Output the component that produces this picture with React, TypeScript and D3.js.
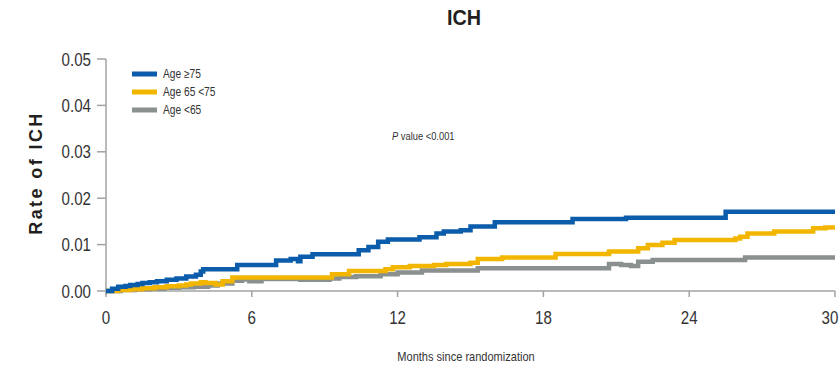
import React from 'react';
import * as d3 from 'd3';

// Axis ticks
const monthTicks = [0, 6, 12, 18, 24, 30];
const rateTicks = [0, 0.01, 0.02, 0.03, 0.04, 0.05];
const rateTickLabels = ['0.00', '0.01', '0.02', '0.03', '0.04', '0.05'];

// Cumulative ICH rate by age group (months since randomization, rate)
const ageOver75Months = [0, 0.25, 0.5, 0.8, 1.0, 1.3, 1.5, 1.8, 2.1, 2.5, 2.9, 3.3, 3.7, 3.9, 4.0, 5.4, 7.0, 7.6, 7.9, 8.0, 8.5, 10.4, 10.8, 11.2, 11.6, 12.9, 13.6, 13.9, 14.6, 15.0, 16.0, 19.2, 21.4, 25.5, 30];
const ageOver75Rates = [0, 0.0005, 0.0009, 0.0011, 0.0013, 0.0015, 0.0017, 0.0019, 0.0021, 0.0024, 0.0027, 0.0031, 0.0035, 0.0042, 0.0047, 0.0056, 0.0066, 0.0069, 0.0064, 0.0074, 0.0079, 0.0088, 0.0095, 0.0106, 0.0111, 0.0116, 0.0124, 0.0128, 0.0131, 0.0139, 0.0148, 0.0155, 0.0158, 0.0171, 0.0171];

const age65to75Months = [0, 0.5, 1.0, 1.5, 2.0, 2.5, 3.0, 3.3, 3.5, 3.9, 4.1, 4.5, 4.8, 5.2, 9.3, 10.0, 11.5, 11.8, 12.5, 13.5, 14.0, 15.0, 15.3, 16.3, 18.5, 20.7, 21.9, 22.3, 22.9, 23.4, 25.9, 26.1, 26.4, 27.5, 29.1, 29.6, 30];
const age65to75Rates = [0, 0.0002, 0.0004, 0.0006, 0.0008, 0.001, 0.0012, 0.0014, 0.0016, 0.0019, 0.0017, 0.0014, 0.0021, 0.0029, 0.0036, 0.0043, 0.0047, 0.0051, 0.0054, 0.0056, 0.0058, 0.0061, 0.0069, 0.0072, 0.008, 0.0085, 0.0092, 0.0099, 0.0104, 0.011, 0.0113, 0.0117, 0.0124, 0.0128, 0.0135, 0.0137, 0.0137];

const ageUnder65Months = [0, 0.6, 1.2, 1.8, 2.4, 3.0, 3.6, 4.2, 4.6, 5.2, 5.6, 5.9, 6.4, 8.0, 9.2, 9.6, 10.3, 11.3, 12.0, 13.0, 15.3, 20.7, 21.2, 21.6, 21.9, 22.5, 26.3, 30];
const ageUnder65Rates = [0, 0.0002, 0.0004, 0.0005, 0.0007, 0.0008, 0.0009, 0.0012, 0.0016, 0.0022, 0.0025, 0.0021, 0.0026, 0.0024, 0.0027, 0.003, 0.0032, 0.0036, 0.004, 0.0044, 0.0049, 0.0058, 0.0056, 0.0054, 0.0063, 0.0067, 0.0072, 0.0072];

const seriesNames = ['Age \u226575', 'Age 65 <75', 'Age <65'];
const seriesColors = ['#0b5cab', '#f2b600', '#8a8f8f'];

const NARROW = "'Liberation Sans Narrow', 'Arial Narrow', 'Liberation Sans', Arial, sans-serif";
const SANS = "'Liberation Sans', Arial, sans-serif";

function CondText({ x, y, size, anchor = 'start', sx = 0.85, weight = 'normal', fill = '#333', children }: any) {
  return (
    <text
      transform={`translate(${x},${y}) scale(${sx},1)`}
      textAnchor={anchor}
      fontSize={size}
      fontFamily={NARROW}
      fontWeight={weight}
      fill={fill}
    >
      {children}
    </text>
  );
}

export default function App() {
  const W = 840;
  const H = 365;
  const x = d3.scaleLinear().domain([0, 30]).range([106, 835]);
  const y = d3.scaleLinear().domain([0, 0.05]).range([291, 59]);

  const line = d3
    .line<[number, number]>()
    .x((d) => x(d[0]))
    .y((d) => y(d[1]))
    .curve(d3.curveStepAfter);

  const zipSeries = (m: number[], r: number[]) => m.map((t, i) => [t, r[i]] as [number, number]);
  const series = [
    zipSeries(ageOver75Months, ageOver75Rates),
    zipSeries(age65to75Months, age65to75Rates),
    zipSeries(ageUnder65Months, ageUnder65Rates),
  ];
  const drawOrder = [2, 1, 0];
  const axisColor = '#a3a3a3';

  return (
    <svg width={W} height={H} style={{ position: 'absolute', left: 0, top: 0, background: '#fff' }}>
      {/* title */}
      <CondText x={464} y={25} size={22} anchor="middle" sx={0.9} weight="bold" fill="#231f20">
        ICH
      </CondText>

      {/* y axis */}
      <line x1={x(0)} x2={x(0)} y1={y(0.05)} y2={y(0) + 4} stroke={axisColor} strokeWidth={1.5} />
      {rateTicks.map((v, i) => (
        <g key={`yt${i}`}>
          <line x1={x(0) - 9} x2={x(0)} y1={y(v)} y2={y(v)} stroke={axisColor} strokeWidth={1.5} />
          <CondText x={91} y={y(v) + 6.5} size={18} anchor="end" sx={0.84}>
            {rateTickLabels[i]}
          </CondText>
        </g>
      ))}
      <text
        transform={`translate(42,${(y(0) + y(0.05)) / 2 - 2}) rotate(-90)`}
        textAnchor="middle"
        fontFamily={SANS}
        fontWeight="bold"
        fontSize={18}
        letterSpacing={2.4}
        fill="#231f20"
      >
        Rate of ICH
      </text>

      {/* x axis */}
      <line x1={x(0)} x2={x(30)} y1={y(0)} y2={y(0)} stroke={axisColor} strokeWidth={1.5} />
      {monthTicks.map((m) => (
        <g key={`xt${m}`}>
          <line x1={x(m)} x2={x(m)} y1={y(0)} y2={y(0) + 6} stroke={axisColor} strokeWidth={1.5} />
          <CondText x={Math.min(x(m), 830)} y={y(0) + 33} size={18} anchor="middle" sx={0.84}>
            {String(m)}
          </CondText>
        </g>
      ))}
      <CondText x={466} y={361} size={13} anchor="middle" sx={0.85}>
        Months since randomization
      </CondText>

      {/* curves */}
      {drawOrder.map((i) => (
        <path
          key={`s${i}`}
          d={line(series[i]) || ''}
          fill="none"
          stroke={seriesColors[i]}
          strokeWidth={4.5}
        />
      ))}

      {/* legend */}
      {seriesNames.map((name, i) => (
        <g key={`lg${i}`}>
          <line x1={132} x2={157} y1={74 + i * 18} y2={74 + i * 18} stroke={seriesColors[i]} strokeWidth={5} />
          <CondText x={163} y={78 + i * 18} size={12} sx={0.85}>
            {name}
          </CondText>
        </g>
      ))}

      {/* p value */}
      <text transform="translate(392,140) scale(0.85,1)" fontFamily={NARROW} fontSize={11} fill="#333">
        <tspan fontStyle="italic">P</tspan> value &lt;0.001
      </text>
    </svg>
  );
}
